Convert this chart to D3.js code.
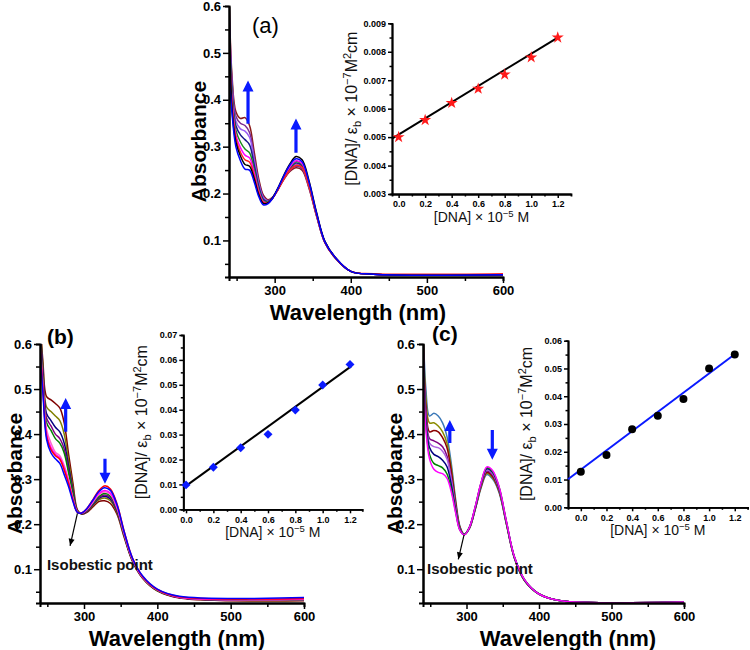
<!DOCTYPE html>
<html><head><meta charset="utf-8">
<script src="https://cdn.jsdelivr.net/npm/d3@7"></script>
<style>body{margin:0;background:#fff}svg{display:block}</style>
</head><body><svg id="c" width="750" height="650"></svg>
<script>
// ---------- DATA ----------
const wavelengths = [240,244,249,255,261,267,273,279,285,291,297,304,312,320,328,336,345,355,366,380,400,430,600];

const colorsA = ["#8b1a1a","#7b2a8f","#9a5cf5","#1a1a8c","#1e8c1e","#ff00ff","#ff2020","#000000","#0000ff"];
const spectraA = [
 [.63,.45,.375,.36,.362,.345,.29,.232,.197,.187,.192,.208,.23,.247,.255,.25,.212,.152,.095,.062,.034,.028,.027],
 [.62,.44,.365,.35,.345,.33,.28,.226,.194,.185,.191,.208,.231,.249,.258,.253,.214,.153,.095,.062,.034,.028,.027],
 [.60,.43,.355,.338,.333,.32,.272,.222,.191,.184,.19,.208,.232,.251,.262,.256,.216,.154,.096,.062,.034,.028,.027],
 [.58,.42,.345,.325,.315,.304,.262,.216,.188,.183,.19,.208,.233,.253,.265,.259,.218,.155,.096,.062,.034,.028,.027],
 [.56,.41,.335,.31,.295,.287,.252,.21,.185,.182,.19,.209,.234,.255,.268,.262,.22,.156,.097,.063,.034,.028,.027],
 [.54,.40,.325,.298,.282,.276,.245,.206,.183,.181,.19,.209,.235,.257,.27,.264,.222,.157,.097,.063,.034,.028,.027],
 [.52,.39,.318,.288,.272,.267,.238,.202,.181,.18,.189,.207,.231,.25,.26,.256,.216,.154,.096,.062,.034,.029,.029],
 [.64,.38,.31,.28,.262,.258,.232,.198,.179,.18,.19,.211,.239,.263,.279,.272,.228,.16,.098,.063,.034,.028,.027],
 [.46,.37,.30,.27,.252,.25,.225,.194,.176,.178,.189,.21,.237,.261,.274,.268,.225,.158,.097,.063,.034,.028,.027]
];

const colorsB = ["#7f0000","#808000","#000080","#800080","#008000","#ff66cc","#ff00ff","#ff0000","#0000ff"];
const spectraB = [
 [.66,.56,.483,.476,.468,.458,.425,.355,.29,.232,.222,.226,.238,.25,.252,.246,.222,.17,.118,.08,.052,.036,.03],
 [.65,.55,.46,.45,.44,.43,.40,.34,.28,.23,.223,.228,.241,.254,.258,.252,.226,.172,.119,.08,.052,.037,.031],
 [.64,.54,.445,.43,.415,.405,.38,.328,.274,.229,.223,.229,.243,.257,.262,.256,.229,.174,.12,.081,.053,.037,.032],
 [.63,.53,.435,.418,.40,.39,.367,.32,.27,.229,.224,.23,.245,.259,.265,.259,.231,.175,.121,.081,.053,.037,.032],
 [.62,.52,.425,.408,.39,.38,.358,.314,.267,.228,.224,.231,.246,.261,.268,.262,.233,.176,.121,.082,.053,.038,.033],
 [.61,.51,.41,.38,.36,.352,.33,.298,.258,.227,.224,.232,.248,.265,.272,.266,.236,.178,.122,.082,.054,.038,.033],
 [.60,.50,.40,.37,.355,.347,.325,.294,.256,.227,.225,.233,.25,.268,.275,.269,.238,.179,.123,.083,.054,.038,.034],
 [.60,.50,.395,.365,.352,.344,.32,.29,.253,.226,.225,.235,.254,.274,.285,.278,.245,.183,.125,.084,.055,.039,.035],
 [.59,.49,.388,.358,.345,.335,.31,.283,.25,.226,.225,.235,.253,.272,.281,.275,.243,.182,.125,.085,.056,.04,.037]
];

const colorsC = ["#3b78b8","#8b8b00","#8b0000","#800080","#b060e0","#000080","#008000","#ff00ff"];
const spectraC = [
 [.66,.50,.44,.446,.44,.425,.395,.335,.255,.195,.177,.19,.232,.28,.31,.30,.27,.2,.125,.075,.045,.03,.027],
 [.65,.48,.425,.425,.418,.405,.38,.325,.25,.193,.177,.191,.233,.282,.313,.303,.272,.201,.125,.075,.045,.03,.027],
 [.64,.46,.405,.408,.405,.392,.37,.318,.246,.192,.177,.191,.234,.284,.315,.306,.274,.202,.126,.075,.045,.03,.027],
 [.63,.45,.39,.385,.38,.372,.352,.305,.24,.19,.177,.192,.235,.286,.318,.309,.276,.203,.126,.076,.045,.03,.027],
 [.62,.44,.38,.372,.37,.362,.345,.30,.237,.189,.177,.192,.236,.288,.32,.312,.278,.204,.127,.076,.045,.03,.027],
 [.61,.43,.37,.355,.35,.342,.328,.288,.232,.188,.177,.193,.237,.29,.323,.315,.28,.205,.127,.076,.045,.03,.027],
 [.60,.42,.355,.335,.33,.325,.312,.278,.228,.187,.177,.193,.238,.291,.325,.317,.282,.206,.128,.077,.045,.03,.027],
 [.59,.41,.345,.322,.315,.312,.302,.272,.225,.186,.176,.193,.239,.292,.327,.319,.283,.207,.128,.077,.045,.03,.027]
];

const mainXTicks = [300,400,500,600];
const mainXMinor = [250,350,450,550];
const mainYTicks = [0.1,0.2,0.3,0.4,0.5,0.6];
const mainYMinor = [0.05,0.15,0.25,0.35,0.45,0.55];

const dnaConc = [0,0.2,0.4,0.6,0.8,1.0,1.2];
const ratioA = [0.0050,0.0056,0.0062,0.0067,0.0072,0.0078,0.0085];
const ratioB = [0.0098,0.0169,0.0247,0.0301,0.0399,0.0499,0.0582];
const ratioC = [0.0128,0.0188,0.0281,0.0330,0.0390,0.0500,0.0550];
const fitAx = [-0.05,1.2], fitAy = [0.00495,0.0085];
const fitBx = [-0.02,1.21], fitBy = [0.0086,0.0575];
const fitCx = [-0.1,1.21], fitCy = [0.0101,0.0555];
const insetXTicks = [0,0.2,0.4,0.6,0.8,1.0,1.2];
const insetXMinor = [0.1,0.3,0.5,0.7,0.9,1.1];
const insetYTicksA = [0.003,0.004,0.005,0.006,0.007,0.008,0.009];
const insetYMinorA = [0.0035,0.0045,0.0055,0.0065,0.0075,0.0085];
const insetYTicksB = [0,0.01,0.02,0.03,0.04,0.05,0.06,0.07];
const insetYMinorB = [0.005,0.015,0.025,0.035,0.045,0.055,0.065];
const insetYTicksC = [0,0.01,0.02,0.03,0.04,0.05,0.06];
const insetYMinorC = [0.005,0.015,0.025,0.035,0.045,0.055];

// ---------- DRAWING ----------
const svg = d3.select("#c");
const SANS = "'Liberation Sans', Arial, sans-serif";
const NARROW = "'Liberation Sans Narrow', 'Liberation Sans', Arial, sans-serif";

function styleAxis(g, fs, fam, domW){
  g.select(".domain").attr("stroke","#000").attr("stroke-width",domW);
  g.selectAll(".tick line").attr("stroke","#000").attr("stroke-width",1.5);
  g.selectAll("text").attr("font-family",fam).attr("font-size",fs).attr("font-weight","bold").attr("fill","#000");
}

function mainPanel(id, xr, yd, yr, spectra, colors){
  const x = d3.scaleLinear().domain([240,600]).range(xr);
  const y = d3.scaleLinear().domain(yd).range(yr);
  const g = svg.append("g");
  svg.append("clipPath").attr("id","clip"+id).append("rect")
     .attr("x",xr[0]).attr("y",yr[1]).attr("width",xr[1]-xr[0]).attr("height",yr[0]-yr[1]);
  const line = d3.line().x((d,i)=>x(wavelengths[i])).y(d=>y(d)).curve(d3.curveCatmullRom.alpha(0.5));
  g.append("g").attr("clip-path",`url(#clip${id})`).selectAll("path").data(spectra).join("path")
    .attr("d",line).attr("fill","none").attr("stroke",(d,i)=>colors[i]).attr("stroke-width",1.5);
  const gxm = g.append("g").attr("transform",`translate(0,${yr[0]})`)
    .call(d3.axisBottom(x).tickValues(mainXMinor).tickSize(4).tickFormat(""));
  styleAxis(gxm,13,SANS,2);
  const gx = g.append("g").attr("transform",`translate(0,${yr[0]})`)
    .call(d3.axisBottom(x).tickValues(mainXTicks).tickSize(6).tickSizeOuter(0).tickPadding(3));
  styleAxis(gx,13,SANS,2);
  const gym = g.append("g").attr("transform",`translate(${xr[0]},0)`)
    .call(d3.axisLeft(y).tickValues(mainYMinor).tickSize(4).tickFormat(""));
  styleAxis(gym,13,SANS,2);
  const gy = g.append("g").attr("transform",`translate(${xr[0]},0)`)
    .call(d3.axisLeft(y).tickValues(mainYTicks).tickSize(6).tickSizeOuter(0).tickPadding(2).tickFormat(d3.format(".1f")));
  styleAxis(gy,13,SANS,2);
  return {x,y,g};
}

function blueArrow(p, xv, y0v, y1v){
  const X = p.x(xv), Y0 = p.y(y0v), Y1 = p.y(y1v);
  const dir = Y1 < Y0 ? 1 : -1;
  const hl = 11, hw = 5.5, sw = 1.6;
  const Yb = Y1 + dir*hl;
  const path = `M${X-sw},${Y0} L${X-sw},${Yb} L${X-hw},${Yb} L${X},${Y1} L${X+hw},${Yb} L${X+sw},${Yb} L${X+sw},${Y0} Z`;
  p.g.append("path").attr("d",path).attr("fill","#0a1aff");
}

function isoNote(p, px, py, tx, ty, lx, ly){
  const X0=p.x(px), Y0=p.y(py), X1=p.x(tx), Y1=p.y(ty);
  p.g.append("line").attr("x1",X0).attr("y1",Y0).attr("x2",X1).attr("y2",Y1).attr("stroke","#000").attr("stroke-width",1.2);
  const ang = Math.atan2(Y1-Y0, X1-X0);
  const hl=7, hw=3;
  const bx = X1 - hl*Math.cos(ang), by = Y1 - hl*Math.sin(ang);
  const nx = -Math.sin(ang), ny = Math.cos(ang);
  p.g.append("path").attr("d",`M${X1},${Y1} L${bx+hw*nx},${by+hw*ny} L${bx-hw*nx},${by-hw*ny} Z`).attr("fill","#000");
  p.g.append("text").attr("x",p.x(lx)).attr("y",p.y(ly)).text("Isobestic point")
    .attr("font-family",NARROW).attr("font-weight","bold").attr("font-size",15).attr("fill","#111");
}

function axisTitles(xr, yr, xlabY, xlabCx, ylabX){
  svg.append("text").attr("x",xlabCx).attr("y",xlabY).attr("text-anchor","middle")
    .attr("font-family",NARROW).attr("font-weight","bold").attr("font-size",22).text("Wavelength (nm)");
  svg.append("text").attr("transform",`translate(${ylabX},${(yr[0]+yr[1])/2}) rotate(-90)`)
    .attr("text-anchor","middle").attr("dominant-baseline","central")
    .attr("font-family",SANS).attr("font-weight","bold").attr("font-size",21).text("Absorbance");
}

function inset(xr, yd, yr, yTicks, yMinor, yFmt, xd, yvals, fitx, fity, symbol, mcolor, lineColor, ylabX){
  const x = d3.scaleLinear().domain(xd).range(xr);
  const y = d3.scaleLinear().domain(yd).range(yr);
  const g = svg.append("g");
  const gxm = g.append("g").attr("transform",`translate(0,${yr[0]})`)
    .call(d3.axisBottom(x).tickValues(insetXMinor).tickSize(2.5).tickFormat(""));
  styleAxis(gxm,9,SANS,1.8);
  const gx = g.append("g").attr("transform",`translate(0,${yr[0]})`)
    .call(d3.axisBottom(x).tickValues(insetXTicks).tickSize(4).tickSizeOuter(0).tickPadding(3).tickFormat(d3.format(".1f")));
  styleAxis(gx,9,SANS,1.8);
  const gym = g.append("g").attr("transform",`translate(${xr[0]},0)`)
    .call(d3.axisLeft(y).tickValues(yMinor).tickSize(2.5).tickFormat(""));
  styleAxis(gym,9,SANS,1.8);
  const gy = g.append("g").attr("transform",`translate(${xr[0]},0)`)
    .call(d3.axisLeft(y).tickValues(yTicks).tickSize(4).tickSizeOuter(0).tickPadding(2).tickFormat(d3.format(yFmt)));
  styleAxis(gy,9,SANS,1.8);
  g.append("line").attr("x1",x(fitx[0])).attr("y1",y(fity[0])).attr("x2",x(fitx[1])).attr("y2",y(fity[1]))
    .attr("stroke",lineColor).attr("stroke-width",2);
  g.selectAll(".pt").data(yvals).join("path").attr("class","pt")
    .attr("transform",(d,i)=>`translate(${x(dnaConc[i])},${y(d)})${symbol.rot?" rotate(45)":""}`)
    .attr("d",d3.symbol().type(symbol.type).size(symbol.size)).attr("fill",mcolor);
  const xl = g.append("text").attr("x",(xr[0]+xr[1])/2).attr("y",yr[0]+28).attr("text-anchor","middle")
    .attr("font-family",SANS).attr("font-size",14).attr("fill","#111");
  xl.append("tspan").text("[DNA] × 10");
  xl.append("tspan").attr("font-size",9.5).attr("dy",-5).text("−5");
  xl.append("tspan").attr("dy",5).text(" M");
  const yl = g.append("text").attr("transform",`translate(${ylabX},${(yr[0]+yr[1])/2}) rotate(-90)`)
    .attr("text-anchor","middle").attr("font-family",SANS).attr("font-size",16).attr("fill","#111");
  yl.append("tspan").text("[DNA]/ ε");
  yl.append("tspan").attr("font-size",11).attr("dy",4).text("b");
  yl.append("tspan").attr("dy",-4).text(" × 10");
  yl.append("tspan").attr("font-size",11).attr("dy",-6).text("−7");
  yl.append("tspan").attr("dy",6).text("M");
  yl.append("tspan").attr("font-size",11).attr("dy",-6).text("2");
  yl.append("tspan").attr("dy",6).text("cm");
}

// Panel (a)
const pA = mainPanel("A",[229,503],[0.022,0.6],[277,6],spectraA,colorsA);
axisTitles([229,503],[277,6],320,358,198);
blueArrow(pA,265,0.349,0.441);
blueArrow(pA,328,0.287,0.36);
svg.append("text").attr("x",252).attr("y",33).attr("font-family",SANS).attr("font-size",22).text("(a)");
inset([392,571],[0.003,0.009],[194,23.3],insetYTicksA,insetYMinorA,".3f",[-0.05,1.3],ratioA,fitAx,fitAy,
  {type:d3.symbolStar,size:45},"#ff1a1a","#000",357);

// Panel (b)
const pB = mainPanel("B",[40,304],[0.025,0.6],[603,344],spectraB,colorsB);
axisTitles([40,304],[603,344],646,177,14);
blueArrow(pB,275,0.405,0.48);
blueArrow(pB,328.6,0.345,0.29);
isoNote(pB,291,0.224,281,0.152,249.5,0.098);
svg.append("text").attr("x",47).attr("y",344).attr("font-family",SANS).attr("font-weight","bold").attr("font-size",21).text("(b)");
inset([183.3,362.3],[0,0.07],[509.3,335],insetYTicksB,insetYMinorB,".2f",[-0.02,1.29],ratioB,fitBx,fitBy,
  {type:d3.symbolSquare,size:40,rot:true},"#0a1aff","#000",147);

// Panel (c)
const pC = mainPanel("C",[423,684],[0.025,0.6],[603,344],spectraC,colorsC);
axisTitles([423,684],[603,344],646,568,394);
blueArrow(pC,277,0.38,0.431);
blueArrow(pC,335.6,0.409,0.343);
isoNote(pC,296.6,0.176,288.7,0.122,245.5,0.09);
svg.append("text").attr("x",432).attr("y",341).attr("font-family",SANS).attr("font-weight","bold").attr("font-size",21).text("(c)");
inset([568,747.6],[0,0.06],[507.3,340.7],insetYTicksC,insetYMinorC,".2f",[-0.1,1.3],ratioC,fitCx,fitCy,
  {type:d3.symbolCircle,size:50},"#000","#0a1aff",532);
</script></body></html>
